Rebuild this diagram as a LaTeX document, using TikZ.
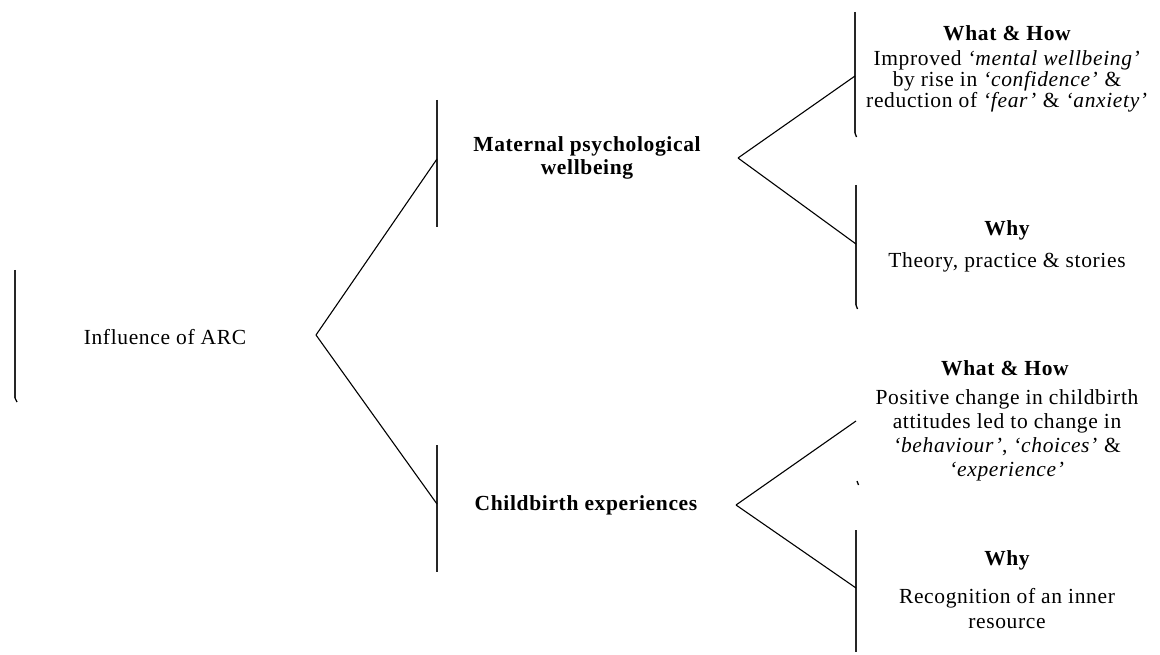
\documentclass[tikz,border=0pt]{standalone}
\usepackage{fontspec}
\setmainfont{Liberation Serif}[LetterSpace=3]
\begin{document}
\begin{tikzpicture}[x=1pt,y=-1pt,
  bar/.style={line width=1.3pt, draw=black!85},
  link/.style={line width=1.1pt, draw=black},
  tick/.style={line width=1.3pt, draw=black},
  lbl/.style={font=\fontsize{21.5}{23}\selectfont, align=center, inner sep=0pt},
  head/.style={lbl, font=\bfseries\fontsize{21.5}{23}\selectfont}]
\useasboundingbox (0,0) rectangle (1160,655);

% text nodes
\node[lbl]  (root) at (165,337) {Influence of ARC};
\node[head] (mat)  at (587,158) {Maternal psychological\\wellbeing};
\node[head] (cb)   at (586,505) {Childbirth experiences};
\node[head] (wh1)  at (1007,33) {What \& How};
\node[lbl, font=\fontsize{21.5}{21}\selectfont] (wh1b) at (1007,81)
  {Improved \textit{‘mental wellbeing’}\\by rise in \textit{‘confidence’} \&\\reduction of \textit{‘fear’} \& \textit{‘anxiety’}};
\node[head] (why1) at (1007,230) {Why};
\node[lbl]  (why1b) at (1007,262) {Theory, practice \& stories};
\node[head] (wh2)  at (1005,368) {What \& How};
\node[lbl, font=\fontsize{21.5}{24}\selectfont] (wh2b) at (1007,435)
  {Positive change in childbirth\\attitudes led to change in\\\textit{‘behaviour’}, \textit{‘choices’} \&\\\textit{‘experience’}};
\node[head] (why2) at (1007,560) {Why};
\node[lbl, font=\fontsize{21.5}{25}\selectfont] (why2b) at (1007,609) {Recognition of an inner\\resource};

% bar coordinates
\coordinate (rootT) at (15,270);  \coordinate (rootB) at (15,398);
\coordinate (matT) at (437,100);  \coordinate (matB) at (437,227); \coordinate (matL) at (437,159);
\coordinate (cbT) at (437,445);   \coordinate (cbB) at (437,572);  \coordinate (cbL) at (437,504);
\coordinate (wh1T) at (855,12);   \coordinate (wh1B) at (855,133); \coordinate (wh1L) at (855,76);
\coordinate (why1T) at (856,185); \coordinate (why1B) at (856,305); \coordinate (why1L) at (856,244);
\coordinate (wh2B) at (857,481);  \coordinate (wh2L) at (856,421);
\coordinate (why2T) at (856,530); \coordinate (why2B) at (856,652); \coordinate (why2L) at (856,588);

% branch points
\coordinate (rootR) at (316,335);
\coordinate (matR) at (738,158);
\coordinate (cbR) at (736,505);

% bars
\draw[bar] (rootT) -- (rootB);
\draw[bar] (matT) -- (matB);
\draw[bar] (cbT) -- (cbB);
\draw[bar] (wh1T) -- (wh1B);
\draw[bar] (why1T) -- (why1B);
\draw[bar] (why2T) -- (why2B);

% small ticks at bar ends
\draw[tick] (rootB) -- ++(2,4);
\draw[tick] (wh1B) -- ++(1.5,4);
\draw[tick] (why1B) -- ++(1.5,4);
\draw[tick] (wh2B) -- ++(1.5,4);

% connectors
\draw[link] (rootR) -- (matL);
\draw[link] (rootR) -- (cbL);
\draw[link] (matR) -- (wh1L);
\draw[link] (matR) -- (why1L);
\draw[link] (cbR) -- (wh2L);
\draw[link] (cbR) -- (why2L);
\end{tikzpicture}
\end{document}
